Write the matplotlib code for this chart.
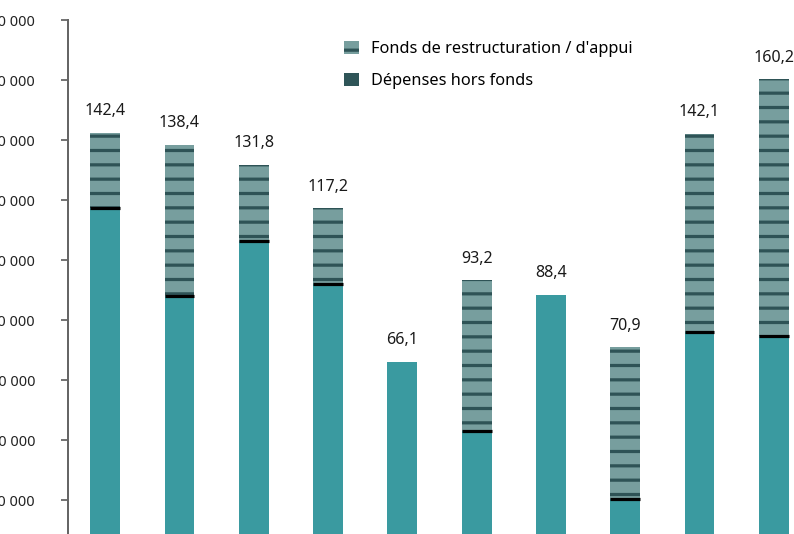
import matplotlib
matplotlib.use("Agg")
import matplotlib.pyplot as plt
from matplotlib.patches import Patch

# Budget totals (millions) and the part spent outside the funds
categories = ["A", "B", "C", "D", "E", "F", "G", "H", "I", "J"]
totals = [142.4, 138.4, 131.8, 117.2, 66.1, 93.2, 88.4, 70.9, 142.1, 160.2]
hors_fonds = [117.3, 88.0, 106.4, 92.0, 66.1, 43.0, 88.4, 20.3, 76.0, 74.7]
fonds = [t - h for t, h in zip(totals, hors_fonds)]
total_labels = ["142,4", "138,4", "131,8", "117,2", "66,1", "93,2", "88,4", "70,9", "142,1", "160,2"]
y_ticks = [20, 40, 60, 80, 100, 120, 140, 160, 180]
y_tick_labels = ["20 000", "40 000", "60 000", "80 000", "100 000",
                 "120 000", "140 000", "160 000", "180 000"]

TEAL = "#3a9aa0"
STRIPE_FACE = "#779e9e"
STRIPE = "#2e5356"
DARK = "#2f5558"

# render resolution; sizes below are given in output pixels
DPI = 86


def pt(px):
    return px * 72.0 / DPI


plt.rcParams["font.family"] = ["Noto Sans", "DejaVu Sans"]
plt.rcParams["hatch.linewidth"] = pt(3.2)
plt.rcParams["hatch.color"] = STRIPE

W, H = 794, 534
fig = plt.figure(figsize=(W / DPI, H / DPI), dpi=DPI)
ax = fig.add_axes([68 / W, -26 / H, 743 / W, 540 / H])

x = list(range(len(categories)))
width = 0.4
ax.bar(x, hors_fonds, width=width, color=TEAL, linewidth=0, zorder=2)
ax.bar(x, fonds, width=width, bottom=hors_fonds, color=STRIPE_FACE,
       hatch="-", edgecolor=STRIPE, linewidth=0, zorder=2)

# black separator where a striped segment sits on the teal segment
for xi, h, f in zip(x, hors_fonds, fonds):
    if f > 0.05:
        ax.hlines(h, xi - width / 2, xi + width / 2, color="black",
                  linewidth=pt(3.2), zorder=3)

for xi, t, lab in zip(x, totals, total_labels):
    ax.text(xi, t + 4.5, lab, ha="center", va="bottom", fontsize=pt(16),
            color="#1a1a1a", fontweight="medium")

ax.set_xlim(-0.5, 9.5)
ax.set_ylim(0, 180)
ax.set_yticks(y_ticks)
ax.set_yticklabels(y_tick_labels, fontsize=pt(14.5), color="#222222",
                   fontweight="semibold")
ax.set_xticks([])
ax.tick_params(axis="y", length=pt(7), width=pt(1.6), color="#555555",
               pad=pt(26))
for s in ["top", "right", "bottom"]:
    ax.spines[s].set_visible(False)
ax.spines["left"].set_color("#666666")
ax.spines["left"].set_linewidth(pt(2))

handles = [
    Patch(facecolor=STRIPE_FACE, hatch="-", edgecolor=STRIPE, linewidth=0),
    Patch(facecolor=DARK, linewidth=0),
]
fig.legend(handles, ["Fonds de restructuration / d'appui", "Dépenses hors fonds"],
           loc="upper left", bbox_to_anchor=(329 / W, 1 - 26 / H),
           frameon=False, fontsize=pt(16.3), handlelength=0.95, handleheight=0.9,
           handletextpad=0.7, labelspacing=0.95)

fig.savefig("out.png", dpi=DPI)
